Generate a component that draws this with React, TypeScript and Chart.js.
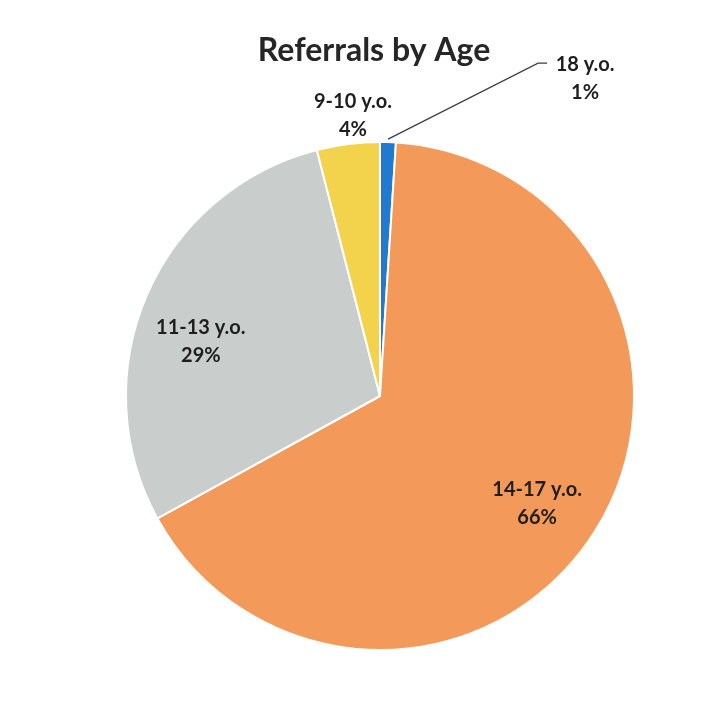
import React, { useEffect, useRef } from "react";
import { Chart, registerables } from "chart.js";

Chart.register(...registerables);

const TITLE = "Referrals by Age";
const categories = ["18 y.o.", "14-17 y.o.", "11-13 y.o.", "9-10 y.o."];
const values = [1, 66, 29, 4];
const percentLabels = ["1%", "66%", "29%", "4%"];
const colors = ["#1f7ad0", "#f39a5a", "#c9cdcc", "#f4d34c"];

// style: label placement (radius factor and pixel nudge), per slice
const LABEL_STYLE = [
  { r: 1.0, dx: 0, dy: 0 },
  { r: 0.7, dx: 7, dy: 12 },
  { r: 0.73, dx: -9, dy: 19 },
  { r: 1.1, dx: 8, dy: -3 },
];

const FONT = "Lato, 'Open Sans', sans-serif";

const labelPlugin = {
  id: "pieLabels",
  afterDraw(chart: any) {
    const ctx = chart.ctx as CanvasRenderingContext2D;
    const meta = chart.getDatasetMeta(0);
    ctx.save();
    // title
    ctx.fillStyle = "#262626";
    ctx.font = `bold 32px ${FONT}`;
    ctx.textAlign = "center";
    ctx.textBaseline = "middle";
    ctx.fillText(TITLE, 374, 51);

    ctx.font = `bold 20px ${FONT}`;
    ctx.fillStyle = "#1e1e1e";
    meta.data.forEach((arc: any, i: number) => {
      const { x, y, startAngle, endAngle, outerRadius } = arc.getProps(
        ["x", "y", "startAngle", "endAngle", "outerRadius"],
        true
      );
      const mid = (startAngle + endAngle) / 2;
      const st = LABEL_STYLE[i];
      if (i === 0) {
        const ox = x + Math.cos(mid) * (outerRadius + 3);
        const oy = y + Math.sin(mid) * (outerRadius + 3);
        const ex = ox + 150;
        const ey = oy - 76;
        ctx.strokeStyle = "#3c3c3c";
        ctx.lineWidth = 1.2;
        ctx.beginPath();
        ctx.moveTo(ox, oy);
        ctx.lineTo(ex, ey);
        ctx.lineTo(ex + 9, ey);
        ctx.stroke();
        const cx = ex + 47;
        ctx.fillText(categories[i], cx, ey + 1);
        ctx.fillText(percentLabels[i], cx, ey + 29);
        return;
      }
      const cx = x + Math.cos(mid) * outerRadius * st.r + st.dx;
      const cy = y + Math.sin(mid) * outerRadius * st.r + st.dy;
      ctx.fillText(categories[i], cx, cy - 14);
      ctx.fillText(percentLabels[i], cx, cy + 14);
    });
    ctx.restore();
  },
};

export default function App() {
  const ref = useRef<HTMLCanvasElement>(null);
  useEffect(() => {
    if (!ref.current) return;
    const chart = new Chart(ref.current, {
      type: "pie",
      data: {
        labels: categories,
        datasets: [
          {
            data: values,
            backgroundColor: colors,
            borderColor: "#ffffff",
            borderWidth: 2,
          },
        ],
      },
      options: {
        animation: false,
        responsive: false,
        layout: { padding: { left: 125, right: 92, top: 141, bottom: 58 } },
        plugins: {
          legend: { display: false },
          title: { display: false },
          tooltip: { enabled: false },
        },
      },
      plugins: [labelPlugin],
    });
    return () => chart.destroy();
  }, []);
  return (
    <div
      style={{
        position: "fixed",
        left: 0,
        top: 0,
        width: 727,
        height: 709,
        background: "#ffffff",
      }}
    >
      <canvas ref={ref} width={727} height={709} />
    </div>
  );
}
